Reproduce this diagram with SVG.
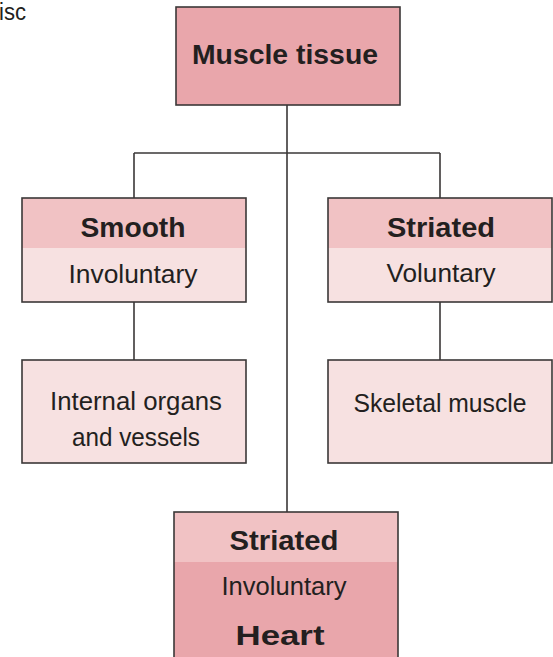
<svg xmlns="http://www.w3.org/2000/svg" width="553" height="657" viewBox="0 0 553 657">
<style>
.box{stroke:#3b3838;stroke-width:1.6}
.dark{fill:#e9a6ab}
.mid{fill:#f1c2c4}
.light{fill:#f7e1e1}
.edge{fill:none;stroke:#3b3838;stroke-width:1.6}
text{font-family:"Liberation Sans",Arial,sans-serif;fill:#231f20;text-anchor:middle}
.b{font-weight:bold;font-size:28px}
.r{font-size:26px}
</style>
<rect width="553" height="657" fill="#ffffff"/>
<text x="-1" y="20" style="text-anchor:start;font-size:23px" textLength="27" lengthAdjust="spacingAndGlyphs">isc</text>
<g id="connectors">
<path class="edge" d="M287 105V512M134 153H440M134 153V198M440 153V198M134 302V360M440 302V360"/>
</g>
<g id="muscle-tissue">
<rect class="box dark" x="176" y="7" width="224" height="98"/>
<text class="b" x="285" y="64" textLength="186" lengthAdjust="spacingAndGlyphs">Muscle tissue</text>
</g>
<g id="smooth">
<rect class="light" x="22" y="198" width="224" height="104"/>
<rect class="mid" x="22" y="198" width="224" height="50"/>
<rect class="box" x="22" y="198" width="224" height="104" fill="none"/>
<text class="b" x="133" y="237" textLength="105" lengthAdjust="spacingAndGlyphs">Smooth</text>
<text class="r" x="133" y="283" textLength="129" lengthAdjust="spacingAndGlyphs">Involuntary</text>
</g>
<g id="striated-voluntary">
<rect class="light" x="328" y="198" width="224" height="104"/>
<rect class="mid" x="328" y="198" width="224" height="50"/>
<rect class="box" x="328" y="198" width="224" height="104" fill="none"/>
<text class="b" x="441" y="237" textLength="108" lengthAdjust="spacingAndGlyphs">Striated</text>
<text class="r" x="441" y="282" textLength="109" lengthAdjust="spacingAndGlyphs">Voluntary</text>
</g>
<g id="internal-organs">
<rect class="box light" x="22" y="360" width="224" height="103"/>
<text class="r" x="136" y="410" textLength="172" lengthAdjust="spacingAndGlyphs">Internal organs</text>
<text class="r" x="136" y="446" textLength="128" lengthAdjust="spacingAndGlyphs">and vessels</text>
</g>
<g id="skeletal-muscle">
<rect class="box light" x="328" y="360" width="224" height="103"/>
<text class="r" x="440" y="412" textLength="173" lengthAdjust="spacingAndGlyphs">Skeletal muscle</text>
</g>
<g id="heart">
<rect class="dark" x="174" y="512" width="224" height="150"/>
<rect class="mid" x="174" y="512" width="224" height="50"/>
<rect class="box" x="174" y="512" width="224" height="150" fill="none"/>
<text class="b" x="284" y="550" textLength="109" lengthAdjust="spacingAndGlyphs">Striated</text>
<text class="r" x="284" y="595" textLength="125" lengthAdjust="spacingAndGlyphs">Involuntary</text>
<text class="b" x="280" y="645" textLength="89" lengthAdjust="spacingAndGlyphs">Heart</text>
</g>
</svg>
